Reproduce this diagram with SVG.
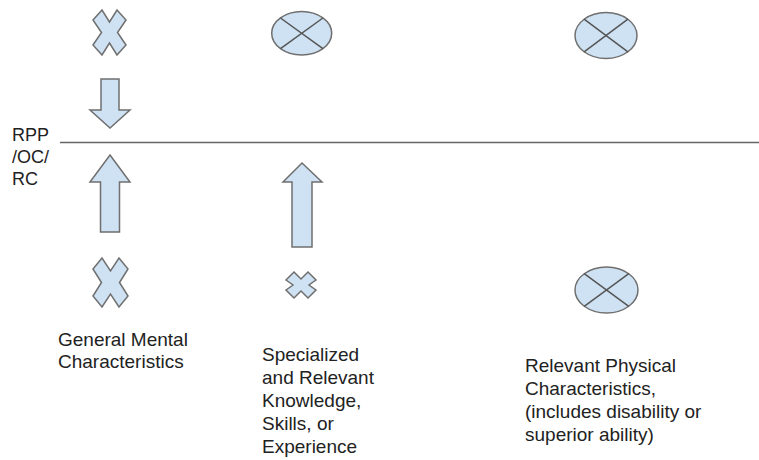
<svg xmlns="http://www.w3.org/2000/svg" width="759" height="460" viewBox="0 0 759 460">
  <style>
    .shape { fill: #cfe2f3; stroke: #6f6f6f; stroke-width: 1.5; stroke-linejoin: miter; }
    .mark { stroke: #555; stroke-width: 1.5; fill: none; }
    .rule { stroke: #666; stroke-width: 1.5; fill: none; }
    .label { font-family: "Liberation Sans", Arial, sans-serif; font-size: 19px; fill: #222; }
    .side { font-family: "Liberation Sans", Arial, sans-serif; font-size: 18px; fill: #222; }
  </style>
  <rect width="759" height="460" fill="#ffffff"/>

  <!-- horizontal divider -->
  <g id="connectors">
    <line class="rule" x1="60" y1="142.5" x2="759" y2="142.5"/>
  </g>

  <g id="side-label">
    <text class="side" x="12" y="141">RPP</text>
    <text class="side" x="12" y="163">/OC/</text>
    <text class="side" x="12" y="185">RC</text>
  </g>

  <!-- column 1 -->
  <g id="cross-top-left">
    <polygon class="shape" points="93,20 102,10 109.5,22 117,10 126,20 117.5,32.5 126,45 117,55 109.5,43 102,55 93,45 101.5,32.5"/>
  </g>
  <g id="arrow-down-left">
    <polygon class="shape" points="101,79 119,79 119,110 130,110 110,128 90,110 101,110"/>
  </g>
  <g id="arrow-up-left">
    <polygon class="shape" points="110,155 130,182 119.5,182 119.5,232 100.5,232 100.5,182 90,182"/>
  </g>
  <g id="cross-bottom-left">
    <polygon class="shape" points="93,269 102,258 110.5,271 119,258 128,269 119.5,282.5 128,296 119,307 110.5,294 102,307 93,296 101.5,282.5"/>
  </g>
  <g id="label-mental">
    <text class="label" x="58" y="346">General Mental</text>
    <text class="label" x="58" y="368">Characteristics</text>
  </g>

  <!-- column 2 -->
  <g id="junction-top-middle">
    <ellipse class="shape" cx="301.7" cy="33.3" rx="30" ry="21.7"/>
    <line class="mark" x1="280.5" y1="18" x2="322.9" y2="48.6"/>
    <line class="mark" x1="280.5" y1="48.6" x2="322.9" y2="18"/>
  </g>
  <g id="arrow-up-middle">
    <polygon class="shape" points="302,163 322,182 312,182 312,247 292,247 292,182 283,182"/>
  </g>
  <g id="cross-small-middle">
    <polygon class="shape" points="286,280 294,272 301,279 308,272 316,280 309,285 316,290 308,298 301,291 294,298 286,290 293,285"/>
  </g>
  <g id="label-knowledge">
    <text class="label" x="262" y="361">Specialized</text>
    <text class="label" x="262" y="384">and Relevant</text>
    <text class="label" x="262" y="407">Knowledge,</text>
    <text class="label" x="262" y="430">Skills, or</text>
    <text class="label" x="262" y="453">Experience</text>
  </g>

  <!-- column 3 -->
  <g id="junction-top-right">
    <ellipse class="shape" cx="606" cy="35.5" rx="31" ry="23"/>
    <line class="mark" x1="584.1" y1="19.2" x2="627.9" y2="51.8"/>
    <line class="mark" x1="584.1" y1="51.8" x2="627.9" y2="19.2"/>
  </g>
  <g id="junction-bottom-right">
    <ellipse class="shape" cx="606.5" cy="290" rx="31.5" ry="23"/>
    <line class="mark" x1="584.2" y1="273.7" x2="628.8" y2="306.3"/>
    <line class="mark" x1="584.2" y1="306.3" x2="628.8" y2="273.7"/>
  </g>
  <g id="label-physical">
    <text class="label" x="525" y="372">Relevant Physical</text>
    <text class="label" x="525" y="395">Characteristics,</text>
    <text class="label" x="525" y="418">(includes disability or</text>
    <text class="label" x="525" y="441">superior ability)</text>
  </g>
</svg>
